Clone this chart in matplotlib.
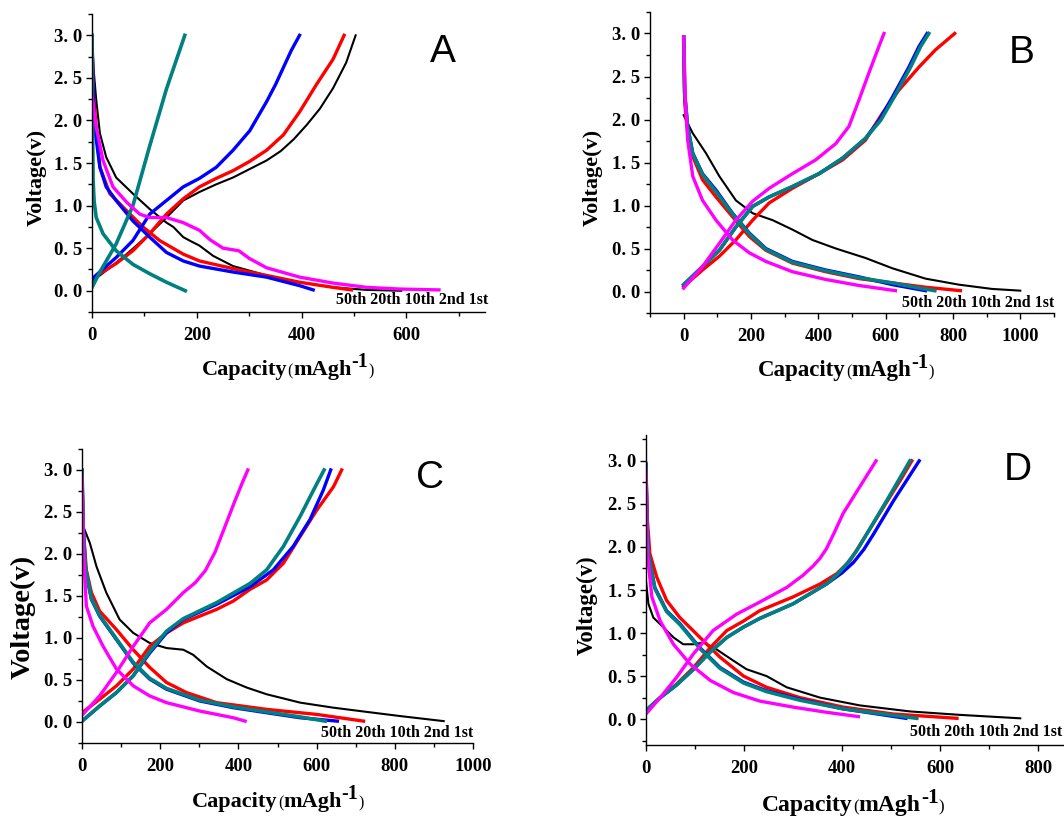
import matplotlib
matplotlib.use("Agg")
import matplotlib.pyplot as plt
import matplotlib.transforms as mtransforms
from matplotlib.ticker import MultipleLocator, FuncFormatter

# cycle labels and colours (1st, 2nd, 10th, 20th, 50th)
cycles = ["1st", "2nd", "10th", "20th", "50th"]
cycle_colors = ["#000000", "#ff0000", "#0000ff", "#008080", "#ff00ff"]
cycle_widths = [1.5, 2.4, 2.4, 2.6, 2.4]

# ---- panel A : [capacity], [voltage] ----
a_1st_dis = [[0, 3, 8, 15, 27, 46, 78, 110, 142, 155, 174, 186, 205, 231, 269, 333, 396, 460, 524, 590],
             [2.96, 2.6, 2.24, 1.85, 1.57, 1.33, 1.14, 0.96, 0.80, 0.75, 0.63, 0.59, 0.53, 0.41, 0.29, 0.18, 0.10, 0.04, 0.01, 0.0]]
a_1st_chg = [[0, 15, 40, 66, 90, 110, 142, 174, 205, 237, 269, 301, 333, 360, 385, 410, 435, 460, 485, 503],
             [0.12, 0.18, 0.30, 0.43, 0.56, 0.67, 0.86, 1.06, 1.16, 1.25, 1.33, 1.43, 1.53, 1.64, 1.78, 1.95, 2.14, 2.38, 2.68, 3.0]]
a_2nd_dis = [[0, 3, 8, 15, 34, 66, 97, 129, 174, 205, 269, 333, 396, 460, 495],
             [2.9, 2.3, 1.9, 1.45, 1.14, 0.94, 0.75, 0.59, 0.43, 0.35, 0.26, 0.18, 0.10, 0.04, 0.01]]
a_2nd_chg = [[15, 46, 78, 110, 142, 174, 205, 237, 269, 301, 333, 365, 396, 428, 460, 481],
             [0.2, 0.32, 0.47, 0.67, 0.90, 1.08, 1.22, 1.32, 1.41, 1.52, 1.65, 1.83, 2.10, 2.42, 2.72, 3.0]]
a_10th_dis = [[0, 2, 5, 15, 27, 46, 78, 110, 142, 174, 205, 269, 333, 396, 422],
              [3.0, 2.4, 1.92, 1.45, 1.22, 1.06, 0.82, 0.63, 0.45, 0.35, 0.29, 0.22, 0.16, 0.06, 0.01]]
a_10th_chg = [[0, 20, 46, 78, 110, 142, 174, 205, 237, 269, 301, 333, 350, 365, 380, 396],
              [0.14, 0.25, 0.39, 0.59, 0.90, 1.06, 1.22, 1.32, 1.45, 1.65, 1.88, 2.22, 2.42, 2.62, 2.82, 3.0]]
a_20th_dis = [[0, 1, 2, 4, 8, 21, 46, 78, 110, 142, 178],
              [3.0, 2.0, 1.3, 1.05, 0.86, 0.67, 0.47, 0.31, 0.20, 0.10, 0.0]]
a_20th_chg = [[0, 15, 46, 78, 110, 142, 177],
              [0.04, 0.22, 0.55, 1.0, 1.7, 2.37, 3.0]]
a_50th_dis = [[0, 8, 21, 40, 66, 91, 110, 142, 174, 205, 225, 250, 280, 300, 333, 396, 460, 524, 587, 662],
              [2.28, 1.92, 1.53, 1.22, 1.04, 0.90, 0.86, 0.86, 0.80, 0.71, 0.60, 0.50, 0.47, 0.38, 0.27, 0.16, 0.09, 0.04, 0.02, 0.01]]

# ---- panel B ----
b_1st_dis = [[0, 27, 66, 106, 155, 205, 264, 323, 382, 452, 540, 620, 718, 817, 916, 1000],
             [2.05, 1.84, 1.61, 1.34, 1.06, 0.91, 0.83, 0.72, 0.60, 0.50, 0.39, 0.27, 0.15, 0.08, 0.03, 0.01]]
b_2nd_dis = [[0, 3, 12, 27, 56, 96, 145, 195, 244, 323, 422, 521, 620, 718, 822],
             [2.96, 2.2, 1.84, 1.57, 1.30, 1.10, 0.87, 0.64, 0.48, 0.33, 0.23, 0.15, 0.10, 0.05, 0.01]]
b_2nd_chg = [[0, 56, 106, 155, 205, 254, 323, 402, 472, 540, 590, 639, 699, 748, 805],
             [0.06, 0.25, 0.41, 0.60, 0.83, 1.03, 1.20, 1.37, 1.53, 1.76, 2.07, 2.34, 2.61, 2.81, 3.0]]
b_10th_dis = [[0, 3, 12, 27, 56, 96, 145, 195, 244, 323, 422, 521, 620, 718],
              [2.96, 2.3, 1.92, 1.61, 1.37, 1.18, 0.91, 0.68, 0.50, 0.35, 0.25, 0.17, 0.08, 0.01]]
b_10th_chg = [[0, 56, 106, 155, 205, 254, 323, 402, 472, 540, 580, 620, 669, 699, 723],
              [0.08, 0.29, 0.48, 0.75, 0.99, 1.10, 1.22, 1.37, 1.55, 1.78, 1.99, 2.26, 2.61, 2.85, 3.0]]
b_20th_dis = [[0, 3, 12, 27, 56, 96, 145, 195, 244, 323, 422, 521, 620, 700, 746],
              [2.96, 2.3, 1.9, 1.6, 1.36, 1.16, 0.90, 0.67, 0.49, 0.34, 0.24, 0.16, 0.10, 0.04, 0.01]]
b_20th_chg = [[0, 56, 106, 155, 205, 254, 323, 402, 472, 540, 585, 625, 674, 704, 728],
              [0.08, 0.29, 0.48, 0.75, 0.99, 1.10, 1.22, 1.37, 1.55, 1.78, 1.99, 2.26, 2.61, 2.85, 3.0]]
b_50th_dis = [[0, 5, 12, 27, 56, 96, 145, 195, 244, 323, 422, 521, 629],
              [2.96, 2.23, 1.76, 1.34, 1.06, 0.83, 0.60, 0.45, 0.35, 0.23, 0.14, 0.07, 0.01]]
b_50th_chg = [[0, 56, 106, 155, 205, 254, 323, 392, 452, 491, 521, 550, 580, 595],
              [0.04, 0.29, 0.56, 0.83, 1.05, 1.20, 1.37, 1.53, 1.72, 1.92, 2.23, 2.54, 2.85, 3.0]]

# ---- panel C ----
c_1st_dis = [[3, 20, 37, 62, 96, 131, 173, 216, 259, 284, 319, 370, 421, 472, 558, 643, 728, 814, 925],
             [2.33, 2.13, 1.85, 1.54, 1.22, 1.06, 0.94, 0.88, 0.86, 0.80, 0.66, 0.51, 0.41, 0.33, 0.23, 0.17, 0.12, 0.07, 0.01]]
c_2nd_dis = [[0, 3, 11, 24, 45, 88, 131, 173, 216, 267, 344, 472, 600, 720],
             [3.0, 2.3, 1.81, 1.54, 1.32, 1.10, 0.86, 0.65, 0.47, 0.35, 0.23, 0.15, 0.09, 0.01]]
c_2nd_chg = [[0, 45, 88, 131, 173, 216, 259, 301, 344, 387, 430, 472, 515, 558, 600, 643, 664],
             [0.11, 0.27, 0.43, 0.63, 0.90, 1.06, 1.18, 1.26, 1.34, 1.44, 1.58, 1.69, 1.89, 2.21, 2.52, 2.80, 3.0]]
c_10th_dis = [[0, 3, 9, 24, 45, 88, 131, 173, 216, 301, 387, 472, 558, 653],
              [2.95, 2.3, 1.81, 1.46, 1.26, 0.98, 0.70, 0.51, 0.39, 0.25, 0.17, 0.11, 0.05, 0.01]]
c_10th_chg = [[0, 45, 88, 131, 173, 216, 259, 344, 430, 489, 540, 583, 617, 636],
              [0.01, 0.19, 0.35, 0.55, 0.82, 1.06, 1.22, 1.40, 1.61, 1.81, 2.09, 2.41, 2.76, 3.0]]
c_20th_dis = [[0, 3, 9, 24, 45, 88, 131, 173, 216, 301, 387, 472, 558, 622],
              [3.0, 2.3, 1.83, 1.47, 1.27, 0.99, 0.71, 0.52, 0.40, 0.26, 0.18, 0.12, 0.06, 0.01]]
c_20th_chg = [[0, 45, 88, 131, 173, 216, 259, 344, 430, 472, 515, 558, 592, 619],
              [0.01, 0.19, 0.35, 0.55, 0.84, 1.08, 1.23, 1.42, 1.65, 1.81, 2.09, 2.45, 2.76, 3.0]]
c_50th_dis = [[0, 4, 11, 28, 54, 88, 131, 173, 216, 301, 387, 417],
              [2.92, 2.01, 1.38, 1.14, 0.90, 0.63, 0.43, 0.31, 0.23, 0.13, 0.05, 0.01]]
c_50th_chg = [[0, 45, 88, 131, 173, 216, 259, 290, 315, 340, 365, 390, 410, 424],
              [0.08, 0.31, 0.59, 0.90, 1.18, 1.34, 1.54, 1.66, 1.80, 2.02, 2.32, 2.62, 2.85, 3.0]]

# ---- panel D ----
d_1st_dis = [[0, 5, 15, 35, 56, 76, 97, 117, 144, 178, 205, 246, 287, 355, 436, 538, 640, 763],
             [1.61, 1.34, 1.18, 1.07, 0.95, 0.87, 0.87, 0.89, 0.81, 0.68, 0.58, 0.50, 0.37, 0.25, 0.16, 0.09, 0.05, 0.01]]
d_2nd_dis = [[0, 3, 8, 22, 42, 69, 110, 151, 199, 246, 314, 402, 504, 634],
             [2.9, 2.3, 1.92, 1.65, 1.38, 1.18, 0.95, 0.72, 0.50, 0.37, 0.25, 0.14, 0.06, 0.01]]
d_2nd_chg = [[0, 29, 63, 97, 131, 165, 199, 232, 300, 355, 389, 416, 450, 484, 518, 542],
             [0.10, 0.25, 0.41, 0.60, 0.83, 1.03, 1.14, 1.26, 1.42, 1.57, 1.69, 1.84, 2.15, 2.46, 2.77, 3.0]]
d_10th_dis = [[0, 2, 5, 18, 42, 69, 110, 151, 199, 246, 314, 402, 530],
              [2.97, 2.3, 1.92, 1.53, 1.26, 1.11, 0.83, 0.60, 0.43, 0.33, 0.23, 0.12, 0.01]]
d_10th_chg = [[0, 29, 63, 97, 131, 165, 199, 232, 300, 368, 400, 423, 444, 464, 505, 557],
              [0.10, 0.25, 0.40, 0.58, 0.78, 0.95, 1.07, 1.17, 1.34, 1.57, 1.70, 1.82, 1.97, 2.15, 2.54, 3.0]]
d_20th_dis = [[0, 2, 5, 18, 42, 69, 110, 151, 199, 246, 314, 402, 552],
              [2.95, 2.3, 1.92, 1.52, 1.25, 1.10, 0.82, 0.59, 0.42, 0.32, 0.22, 0.12, 0.01]]
d_20th_chg = [[0, 29, 63, 97, 131, 165, 199, 232, 300, 368, 390, 409, 430, 450, 491, 538],
              [0.10, 0.25, 0.40, 0.58, 0.78, 0.95, 1.07, 1.17, 1.34, 1.57, 1.68, 1.80, 1.96, 2.15, 2.54, 3.0]]
d_50th_dis = [[0, 3, 12, 29, 56, 90, 131, 178, 232, 300, 368, 433],
              [2.9, 1.92, 1.42, 1.14, 0.87, 0.64, 0.45, 0.31, 0.21, 0.14, 0.08, 0.03]]
d_50th_chg = [[0, 29, 63, 97, 137, 185, 232, 287, 320, 341, 355, 368, 385, 402, 436, 469],
              [0.06, 0.25, 0.49, 0.76, 1.03, 1.22, 1.36, 1.53, 1.67, 1.78, 1.87, 1.98, 2.18, 2.39, 2.70, 3.0]]

# per panel: curves listed with the cycle index they belong to
panel_curves = {
    "A": [(0, a_1st_dis), (0, a_1st_chg), (1, a_2nd_dis), (1, a_2nd_chg), (2, a_10th_dis),
          (2, a_10th_chg), (3, a_20th_dis), (3, a_20th_chg), (4, a_50th_dis)],
    "B": [(0, b_1st_dis), (1, b_2nd_dis), (1, b_2nd_chg), (2, b_10th_dis), (2, b_10th_chg),
          (3, b_20th_dis), (3, b_20th_chg), (4, b_50th_dis), (4, b_50th_chg)],
    "C": [(0, c_1st_dis), (1, c_2nd_dis), (1, c_2nd_chg), (2, c_10th_dis), (2, c_10th_chg),
          (3, c_20th_dis), (3, c_20th_chg), (4, c_50th_dis), (4, c_50th_chg)],
    "D": [(0, d_1st_dis), (1, d_2nd_dis), (1, d_2nd_chg), (2, d_10th_dis), (2, d_10th_chg),
          (3, d_20th_dis), (3, d_20th_chg), (4, d_50th_dis), (4, d_50th_chg)],
}

# layout: axes rect, limits, letter pos, legend pos, ylabel (x, y, size), xlabel (left, baseline, size)
panel_layout = {
    "A": dict(rect=[0.0865, 0.6176, 0.3694, 0.3652], xlim=(0, 750), ylim=(-0.25, 3.25),
              letter=(0.893, 0.872), legend=(1.008, 0.04), ylab=(-0.14, 0.45, 16), xlab=(0.280, -0.211, 16)),
    "B": dict(rect=[0.6109, 0.6164, 0.3797, 0.3689], xlim=(-100, 1100), ylim=(-0.25, 3.25),
              letter=(0.921, 0.864), legend=(1.0, 0.033), ylab=(-0.141, 0.45, 16), xlab=(0.268, -0.209, 16.5)),
    "C": dict(rect=[0.0771, 0.0895, 0.3675, 0.3603], xlim=(0, 1000), ylim=(-0.25, 3.25),
              letter=(0.890, 0.901), legend=(1.0, 0.034), ylab=(-0.151, 0.43, 20.5), xlab=(0.282, -0.218, 16)),
    "D": dict(rect=[0.6071, 0.0870, 0.3919, 0.3799], xlim=(0, 850), ylim=(-0.3, 3.3),
              letter=(0.892, 0.887), legend=(0.998, 0.042), ylab=(-0.141, 0.45, 16.5), xlab=(0.279, -0.213, 17)),
}

serif = "Liberation Serif"


def style_axes(ax, lay):
    ax.set_xlim(*lay["xlim"])
    ax.set_ylim(*lay["ylim"])
    ax.spines["top"].set_visible(False)
    ax.spines["right"].set_visible(False)
    for s in ["left", "bottom"]:
        ax.spines[s].set_linewidth(1.0)
    ax.xaxis.set_major_locator(MultipleLocator(200))
    ax.xaxis.set_minor_locator(MultipleLocator(100))
    ax.yaxis.set_major_locator(MultipleLocator(0.5))
    ax.yaxis.set_minor_locator(MultipleLocator(0.25))
    ax.yaxis.set_major_formatter(FuncFormatter(lambda v, p: f"{v:.1f}".replace(".", ". ")))
    ax.tick_params(which="both", direction="out", width=1.0)
    ax.tick_params(which="major", length=4)
    ax.tick_params(which="minor", length=3)
    ax.tick_params(axis="x", pad=7)
    ax.tick_params(axis="y", pad=3)
    for lbl in ax.get_xticklabels() + ax.get_yticklabels():
        lbl.set_fontfamily(serif)
        lbl.set_fontweight("bold")
        lbl.set_fontsize(13.5)


def capacity_label(fig, ax, x, y, size, renderer):
    # Capacity(mAgh-1) built piece by piece: small plain brackets, big raised -1
    pieces = [("Capacity", 1.0, "bold", 0.0),
              ("(", 0.72, "normal", 0.0),
              ("mAgh", 1.0, "bold", 0.0),
              ("-1", 0.9, "bold", 0.36),
              (")", 0.72, "normal", 0.0)]
    dx = 0.0
    for txt, scale, weight, rise in pieces:
        tr = mtransforms.offset_copy(ax.transAxes, fig=fig, x=dx, y=rise * size * fig.dpi / 72,
                                     units="dots")
        t = ax.text(x, y, txt, transform=tr, ha="left", va="baseline", fontsize=size * scale,
                    family=serif, fontweight=weight, clip_on=False)
        dx += t.get_window_extent(renderer).width


def draw_panel(fig, name, renderer):
    lay = panel_layout[name]
    ax = fig.add_axes(lay["rect"])
    for idx, curve in panel_curves[name]:
        ax.plot(curve[0], curve[1], color=cycle_colors[idx], lw=cycle_widths[idx])
    style_axes(ax, lay)

    ax.text(*lay["letter"], name, transform=ax.transAxes, ha="center", va="center",
            fontsize=28, family="Liberation Sans")
    ax.text(*lay["legend"], "50th 20th 10th 2nd 1st", transform=ax.transAxes,
            ha="right", va="center", fontsize=11.5, family=serif, fontweight="bold")

    yx, yy, ys = lay["ylab"]
    ax.text(yx, yy, "Voltage(v)", transform=ax.transAxes, rotation=90, ha="center",
            va="center", fontsize=ys, family=serif, fontweight="bold")
    xx, xy, xs = lay["xlab"]
    capacity_label(fig, ax, xx, xy, xs, renderer)
    return ax


def main():
    fig = plt.figure(figsize=(10.64, 8.16), dpi=100)
    renderer = fig.canvas.get_renderer()
    for name in ["A", "B", "C", "D"]:
        draw_panel(fig, name, renderer)
    fig.savefig("out.png", dpi=100)


if __name__ == "__main__":
    main()
